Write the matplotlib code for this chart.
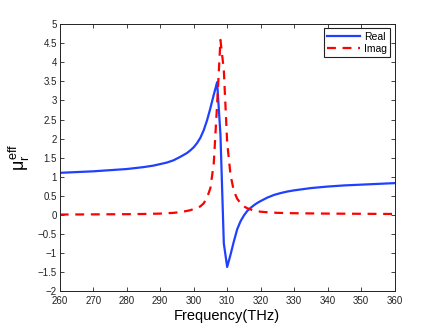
import matplotlib
matplotlib.use("Agg")
import matplotlib.pyplot as plt

# values
freq_real = [260, 265, 270, 275, 280, 285, 288, 290, 292, 294, 296, 298, 299, 300,
             301, 302, 303, 304, 305, 306, 307, 308, 309, 310, 311, 312, 313, 314,
             315, 316, 317, 318, 319, 320, 322, 324, 326, 328, 330, 335, 340, 345,
             350, 355, 360]
mu_real = [1.10, 1.12, 1.14, 1.17, 1.20, 1.25, 1.29, 1.33, 1.37, 1.43, 1.52, 1.62, 1.69, 1.77,
           1.88, 2.02, 2.22, 2.48, 2.80, 3.15, 3.48, 2.10, -0.75, -1.37, -1.05, -0.70, -0.38, -0.17,
           -0.02, 0.10, 0.18, 0.25, 0.31, 0.36, 0.45, 0.52, 0.57, 0.61, 0.64, 0.70, 0.74, 0.77,
           0.79, 0.81, 0.83]

freq_imag = [260, 270, 280, 285, 290, 294, 296, 298, 299, 300, 301, 302, 303, 304,
             305, 306, 307, 308, 309, 310, 311, 312, 313, 314, 315, 316, 317, 318,
             320, 322, 325, 330, 340, 350, 360]
mu_imag = [0.005, 0.01, 0.015, 0.02, 0.03, 0.05, 0.07, 0.10, 0.12, 0.15, 0.18, 0.22, 0.30, 0.45,
           0.70, 1.35, 2.90, 4.59, 3.80, 1.90, 1.05, 0.62, 0.42, 0.30, 0.22, 0.17, 0.14, 0.11,
           0.08, 0.065, 0.05, 0.04, 0.03, 0.025, 0.02]

xticks = list(range(260, 361, 10))
yticks = [-2, -1.5, -1, -0.5, 0, 0.5, 1, 1.5, 2, 2.5, 3, 3.5, 4, 4.5, 5]

plt.rcParams["font.family"] = ["Liberation Sans", "DejaVu Sans"]
plt.rcParams["mathtext.fontset"] = "custom"
plt.rcParams["mathtext.rm"] = "Liberation Sans"
plt.rcParams["mathtext.it"] = "Liberation Sans"
plt.rcParams["mathtext.bf"] = "Liberation Sans:bold"

fig = plt.figure(figsize=(4.36, 3.28), dpi=100)
ax = fig.add_axes([0.137, 0.113, 0.768, 0.813])

ax.plot(freq_real, mu_real, color="#2040ff", lw=1.6, label="Real")
ax.plot(freq_imag, mu_imag, color="#ff0000", lw=1.6, ls=(0, (4, 3)), label="Imag")

ax.set_xlim(260, 360)
ax.set_ylim(-2, 5)
ax.set_xticks(xticks)
ax.set_yticks(yticks)
ax.set_yticklabels([f"{v:g}".replace("-", "\u2212") for v in yticks])
ax.tick_params(direction="in", length=3, width=0.6, labelsize=7, top=True, right=True,
               pad=2, colors="#222222")
ax.tick_params(axis="x", pad=3.5)
for s in ax.spines.values():
    s.set_linewidth(0.7)
    s.set_color("#222222")

ax.set_xlabel("Frequency(THz)", fontsize=10.5, labelpad=2)
ax.set_ylabel(r"$\mu_r^{eff}$", fontsize=13, labelpad=4)

leg = ax.legend(loc="upper right", fontsize=7.5, handlelength=3.2, borderaxespad=0.4,
                fancybox=False, framealpha=1, edgecolor="#222222",
                borderpad=0.3, labelspacing=0.2, handletextpad=0.4)
leg.get_frame().set_linewidth(0.8)

fig.savefig("out.png", dpi=100)
